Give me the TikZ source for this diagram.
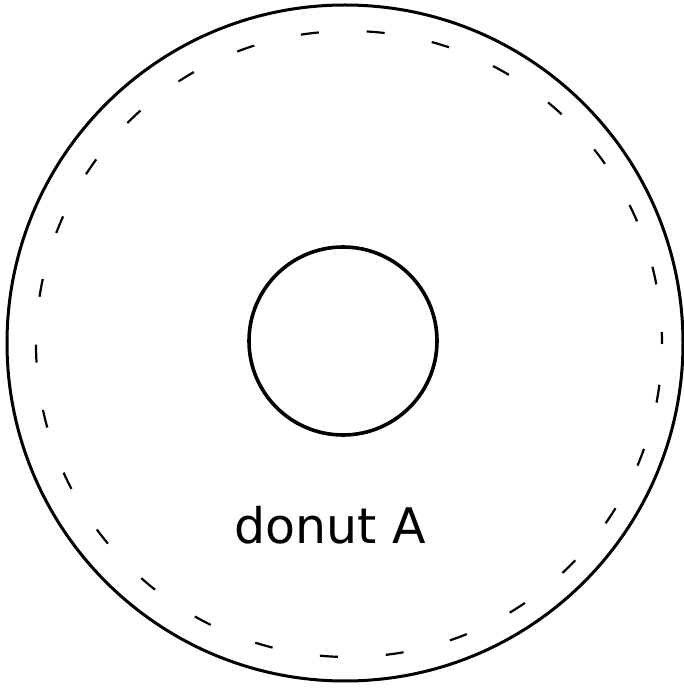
\documentclass[tikz,border=0pt]{standalone}
\usepackage{fontspec}
\setsansfont{DejaVu Sans}
\tikzset{every node/.style={font=\sffamily},line cap=round,line join=round}

\begin{document}
\begin{tikzpicture}[x=1pt,y=1pt]
  \path[use as bounding box] (0,0) rectangle (684,689);
  \draw[line width=3pt] (345,346) circle (338);
  \draw[line width=2.2pt,dash pattern=on 18pt off 48pt,dash phase=6pt] (349,345) circle (313);
  \draw[line width=3.6pt] (343,348) circle (94);
  \node[font=\sffamily\fontsize{49}{58}\selectfont] (label) at (330,164) {donut A};
\end{tikzpicture}
\end{document}
